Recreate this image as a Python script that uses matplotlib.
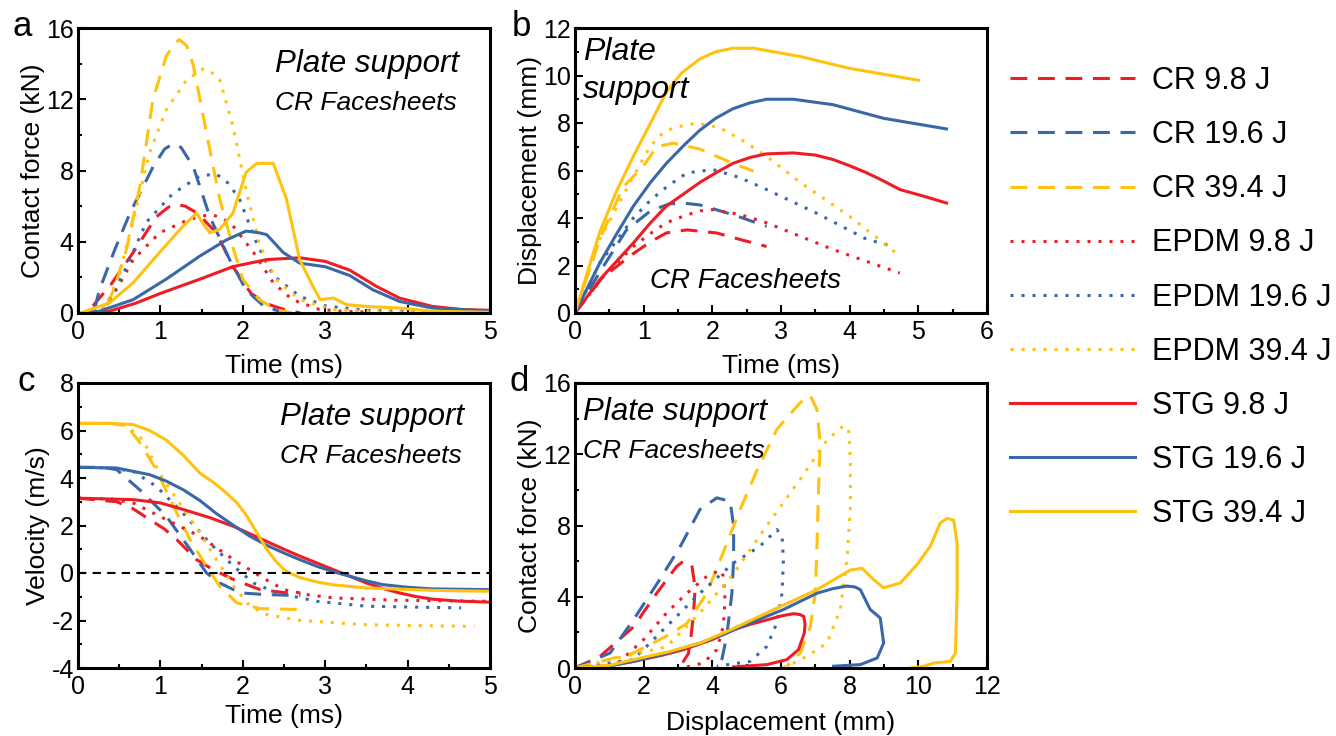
import matplotlib
matplotlib.use('Agg')
import matplotlib.pyplot as plt
from matplotlib.ticker import MultipleLocator

plt.rcParams['font.family'] = ['Liberation Sans', 'DejaVu Sans']
plt.rcParams['axes.unicode_minus'] = False

RED = '#EE1C25'
BLUE = '#3A67A8'
YEL = '#FFC20E'

labels = ['CR 9.8 J', 'CR 19.6 J', 'CR 39.4 J',
          'EPDM 9.8 J', 'EPDM 19.6 J', 'EPDM 39.4 J',
          'STG 9.8 J', 'STG 19.6 J', 'STG 39.4 J']

# ---- panel a: contact force (kN) vs time (ms)
a_cr98 = ([0.18, 0.4, 0.67, 0.95, 1.1, 1.19, 1.3, 1.45, 1.68, 1.88, 2.1, 2.3, 2.5, 2.7],
          [0.4, 1.6, 3.4, 5.4, 5.95, 6.1, 6.0, 5.6, 4.5, 2.6, 1.1, 0.5, 0.2, 0.0])
a_cr196 = ([0.2, 0.26, 0.45, 0.63, 0.91, 1.05, 1.15, 1.25, 1.4, 1.6, 1.84, 2.04, 2.25, 2.5],
           [0.2, 1.3, 3.6, 5.6, 8.2, 9.2, 9.5, 9.3, 8.2, 5.4, 3.0, 1.3, 0.4, 0.0])
a_cr394 = ([0.35, 0.45, 0.59, 0.75, 0.91, 1.07, 1.15, 1.23, 1.32, 1.4, 1.56, 1.72, 1.88, 2.0,
            2.2, 2.4, 2.6],
           [0.4, 1.5, 3.6, 7.1, 12.0, 14.4, 15.0, 15.35, 15.0, 13.9, 10.1, 6.4, 3.7, 1.9,
            0.75, 0.2, 0.0])
a_ep98 = ([0.3, 0.45, 0.67, 0.99, 1.32, 1.5, 1.64, 1.76, 1.88, 2.13, 2.37, 2.6, 2.93, 3.2, 3.5],
          [0.2, 1.2, 3.0, 4.5, 5.2, 5.45, 5.5, 5.3, 4.9, 3.4, 1.7, 0.75, 0.2, 0.1, 0.05])
a_ep196 = ([0.3, 0.45, 0.59, 0.83, 1.15, 1.48, 1.68, 1.82, 1.96, 2.17, 2.37, 2.69, 3.0, 3.5, 4.3],
           [0.2, 1.3, 2.6, 5.1, 6.7, 7.7, 7.8, 7.3, 6.4, 3.9, 2.1, 0.94, 0.4, 0.15, 0.05])
a_ep394 = ([0.3, 0.4, 0.5, 0.67, 0.87, 1.07, 1.32, 1.52, 1.6, 1.72, 1.88, 2.04, 2.2, 2.4, 2.69,
            3.1, 3.6, 4.5],
           [0.2, 1.0, 2.2, 5.2, 9.0, 11.4, 13.1, 13.7, 13.6, 13.1, 10.5, 6.9, 3.9, 1.9, 0.75,
            0.2, 0.08, 0.0])
a_stg98 = ([0.0, 0.38, 0.7, 1.0, 1.48, 1.88, 2.29, 2.69, 3.0, 3.3, 3.62, 3.9, 4.3, 4.65, 5.0],
           [0.0, 0.1, 0.55, 1.1, 1.9, 2.6, 3.0, 3.1, 2.9, 2.4, 1.5, 0.84, 0.37, 0.2, 0.15])
a_stg196 = ([0.0, 0.26, 0.67, 1.07, 1.48, 1.8, 2.04, 2.2, 2.29, 2.49, 2.69, 3.0, 3.3, 3.58, 3.9,
             4.3, 5.0],
            [0.0, 0.1, 0.75, 1.9, 3.2, 4.1, 4.6, 4.5, 4.4, 3.4, 2.8, 2.6, 2.1, 1.3, 0.65,
             0.28, 0.1])
a_stg394 = ([0.0, 0.06, 0.38, 0.67, 0.99, 1.28, 1.44, 1.52, 1.6, 1.72, 1.88, 2.04, 2.17, 2.37,
             2.53, 2.69, 2.85, 2.94, 3.1, 3.26, 3.5, 3.9, 4.3, 5.0],
            [0.0, 0.05, 0.56, 1.7, 3.4, 4.9, 5.6, 5.0, 4.5, 4.7, 5.6, 7.9, 8.4, 8.4,
             6.4, 3.0, 1.5, 0.75, 0.84, 0.47, 0.37, 0.28, 0.1, 0.04])

# ---- panel b: displacement (mm) vs time (ms)
b_cr98 = ([0.0, 0.4, 0.85, 1.1, 1.33, 1.63, 2.06, 2.4, 2.79],
          [0.0, 1.5, 2.5, 3.0, 3.37, 3.5, 3.37, 3.1, 2.8])
b_cr196 = ([0.0, 0.4, 0.75, 1.1, 1.38, 1.6, 1.82, 2.3, 2.79],
           [0.0, 1.9, 3.5, 4.3, 4.6, 4.62, 4.55, 4.14, 3.65])
b_cr394 = ([0.0, 0.36, 0.7, 1.0, 1.19, 1.43, 1.82, 2.3, 2.6],
           [0.0, 3.1, 5.3, 6.2, 7.0, 7.15, 6.9, 6.3, 5.97])
b_ep98 = ([0.0, 0.4, 0.85, 1.1, 1.33, 1.6, 1.82, 2.0, 2.4, 2.79, 3.76, 4.73],
          [0.0, 1.5, 2.8, 3.35, 3.8, 4.1, 4.3, 4.35, 4.15, 3.8, 2.67, 1.68])
b_ep196 = ([0.0, 0.36, 0.85, 1.1, 1.33, 1.63, 2.01, 2.4, 2.79, 3.52, 4.25, 4.64],
           [0.0, 2.1, 4.0, 4.75, 5.3, 5.9, 6.04, 5.7, 5.2, 4.2, 3.1, 2.8])
b_ep394 = ([0.0, 0.36, 0.85, 1.09, 1.25, 1.43, 1.77, 2.11, 2.45, 2.79, 3.28, 4.0, 4.73],
           [0.0, 3.1, 5.75, 7.0, 7.5, 7.8, 8.0, 7.8, 7.25, 6.6, 5.5, 4.07, 2.4])
b_stg98 = ([0.0, 0.36, 0.85, 1.1, 1.33, 1.6, 1.82, 2.05, 2.3, 2.55, 2.79, 3.18, 3.5, 3.76, 4.0,
            4.25, 4.5, 4.73, 5.1, 5.41],
           [0.0, 1.4, 2.95, 3.8, 4.5, 5.05, 5.5, 5.9, 6.3, 6.55, 6.7, 6.74, 6.65, 6.46, 6.2,
            5.9, 5.55, 5.2, 4.9, 4.63])
b_stg196 = ([0.0, 0.36, 0.6, 0.85, 1.1, 1.33, 1.6, 1.82, 2.05, 2.3, 2.55, 2.79, 3.18, 3.76, 4.49,
             5.41],
            [0.0, 2.1, 3.3, 4.5, 5.5, 6.3, 7.1, 7.7, 8.2, 8.6, 8.85, 9.0, 9.0, 8.77, 8.2,
             7.75])
b_stg394 = ([0.0, 0.2, 0.36, 0.6, 0.85, 1.1, 1.33, 1.55, 1.82, 2.05, 2.3, 2.6, 3.28, 4.0, 5.0],
            [0.0, 1.9, 3.4, 5.1, 6.6, 8.0, 9.3, 10.1, 10.7, 11.0, 11.15, 11.15, 10.8, 10.3, 9.8])

# ---- panel c: velocity (m/s) vs time (ms)
c_cr98 = ([0.0, 0.47, 0.67, 0.87, 1.05, 1.2, 1.44, 1.64, 1.89, 2.21, 2.54, 2.7],
          [3.15, 3.0, 2.7, 2.25, 1.85, 1.4, 0.56, 0.14, -0.28, -0.7, -0.84, -0.84])
c_cr196 = ([0.0, 0.3, 0.47, 0.75, 1.07, 1.36, 1.56, 1.72, 1.97, 2.29, 2.7],
           [4.45, 4.45, 4.35, 3.5, 2.4, 1.0, 0.0, -0.42, -0.84, -0.91, -0.95])
c_cr394 = ([0.0, 0.4, 0.59, 0.75, 0.95, 1.16, 1.36, 1.56, 1.72, 1.93, 2.21, 2.7],
           [6.3, 6.3, 6.2, 5.5, 4.35, 2.8, 1.4, 0.28, -0.56, -1.26, -1.5, -1.54])
c_ep98 = ([0.0, 0.4, 0.67, 1.07, 1.48, 1.89, 2.21, 2.5, 2.8, 3.1, 3.9, 4.97],
          [3.15, 3.12, 2.95, 2.25, 1.54, 0.56, -0.14, -0.7, -0.92, -1.05, -1.15, -1.19])
c_ep196 = ([0.0, 0.4, 0.67, 0.95, 1.28, 1.6, 1.89, 2.13, 2.41, 2.9, 3.5, 4.65],
           [4.45, 4.42, 4.28, 3.65, 2.5, 1.26, 0.28, -0.42, -0.84, -1.19, -1.4, -1.47])
c_ep394 = ([0.0, 0.4, 0.59, 0.79, 0.99, 1.2, 1.48, 1.68, 1.89, 2.09, 2.29, 2.7, 3.5, 4.81],
           [6.3, 6.3, 6.2, 5.6, 4.2, 3.1, 1.68, 0.56, -0.56, -1.4, -1.75, -2.0, -2.18, -2.25])
c_stg98 = ([0.0, 0.67, 1.0, 1.28, 1.6, 1.89, 2.1, 2.29, 2.5, 2.7, 2.9, 3.1, 3.3, 3.5, 3.7,
            3.9, 4.1, 4.3, 4.6, 5.0],
           [3.15, 3.09, 2.95, 2.67, 2.33, 1.96, 1.63, 1.33, 1.0, 0.7, 0.42, 0.14, -0.14, -0.42,
            -0.65, -0.84, -0.99, -1.1, -1.18, -1.23])
c_stg196 = ([0.0, 0.47, 0.87, 1.07, 1.28, 1.48, 1.68, 1.89, 2.09, 2.3, 2.5, 2.7, 2.9, 3.1, 3.3,
             3.5, 3.7, 4.0, 4.3, 5.0],
            [4.45, 4.42, 4.14, 3.87, 3.5, 3.05, 2.5, 2.0, 1.54, 1.15, 0.84, 0.55, 0.28, 0.05,
             -0.14, -0.33, -0.49, -0.6, -0.67, -0.7])
c_stg394 = ([0.0, 0.4, 0.67, 0.87, 1.07, 1.28, 1.48, 1.65, 1.8, 1.93, 2.05, 2.17, 2.29, 2.4,
             2.5, 2.6, 2.7, 2.9, 3.1, 3.5, 4.3, 5.0],
            [6.3, 6.3, 6.25, 6.0, 5.6, 4.95, 4.2, 3.8, 3.37, 2.95, 2.4, 1.7, 1.0, 0.5,
             0.14, -0.05, -0.2, -0.38, -0.5, -0.63, -0.73, -0.77])

# ---- panel d: contact force (kN) vs displacement (mm)
d_cr98 = ([0.0, 0.73, 1.7, 2.38, 2.96, 3.16, 3.4, 3.5, 3.45, 3.38, 3.3, 3.1, 2.9],
          [0.0, 0.65, 2.3, 4.2, 5.7, 6.0, 5.8, 4.5, 3.0, 1.8, 0.8, 0.2, 0.0])
d_cr196 = ([0.0, 1.02, 1.7, 2.48, 3.06, 3.64, 4.13, 4.52, 4.62, 4.62, 4.57, 4.42, 4.28, 4.2],
           [0.0, 0.84, 2.7, 5.0, 6.8, 8.9, 9.55, 9.36, 7.96, 6.1, 4.2, 1.8, 0.5, 0.0])
d_cr394 = ([0.0, 1.7, 2.67, 3.26, 3.84, 4.32, 4.81, 5.3, 5.88, 6.56, 6.85, 7.05, 7.14, 7.09,
            7.05, 7.0, 6.85, 6.56, 6.17],
           [0.0, 0.84, 1.8, 2.5, 4.2, 6.5, 8.9, 11.1, 13.4, 14.9, 15.3, 14.5, 12.6, 9.8,
            7.0, 4.2, 2.3, 0.84, 0.1])
d_ep98 = ([0.0, 1.21, 2.0, 2.67, 3.26, 3.84, 4.23, 4.32, 4.37, 4.32, 4.13, 3.74, 3.26],
          [0.0, 0.2, 1.6, 3.1, 4.2, 5.15, 5.5, 5.15, 3.84, 2.34, 1.03, 0.28, 0.06])
d_ep196 = ([0.0, 1.7, 2.67, 3.64, 4.62, 5.39, 5.88, 6.03, 6.07, 6.03, 5.88, 5.59, 5.1, 4.13],
           [0.0, 0.47, 2.34, 4.2, 5.9, 6.84, 7.77, 7.4, 6.1, 4.2, 2.53, 1.22, 0.37, 0.1])
d_ep394 = ([0.0, 2.67, 3.64, 4.62, 5.59, 6.56, 7.34, 7.82, 7.97, 8.02, 8.02, 7.92, 7.73, 7.34,
            6.75, 6.37, 6.07],
           [0.0, 1.2, 3.1, 5.3, 8.0, 10.6, 12.8, 13.6, 13.4, 11.7, 8.9, 6.1, 3.3, 1.4,
            0.66, 0.28, 0.05])
d_stg98 = ([0.0, 1.0, 1.7, 2.5, 3.16, 4.0, 4.62, 5.1, 5.59, 6.0, 6.37, 6.55, 6.66, 6.7, 6.68,
            6.51, 6.17, 5.59, 4.62],
           [0.0, 0.12, 0.37, 0.7, 1.03, 1.6, 2.15, 2.45, 2.7, 2.92, 3.05, 3.0, 2.9, 2.5, 1.97,
            1.03, 0.47, 0.19, 0.06])
d_stg196 = ([0.0, 1.0, 1.7, 2.7, 3.64, 4.4, 5.1, 6.07, 7.05, 7.5, 7.92, 8.15, 8.31, 8.6, 8.89,
             8.99, 8.8, 8.31, 7.53],
            [0.0, 0.12, 0.37, 0.85, 1.4, 1.95, 2.53, 3.28, 4.2, 4.45, 4.6, 4.55, 4.4, 3.28,
             2.81, 1.4, 0.56, 0.19, 0.1])
d_stg394 = ([0.0, 1.0, 1.7, 2.7, 3.64, 4.6, 5.59, 7.05, 8.02, 8.36, 8.7, 8.99, 9.48, 9.96,
             10.35, 10.64, 10.84, 11.03, 11.13, 11.13, 11.08, 10.93, 10.45, 10.16, 9.77],
            [0.0, 0.15, 0.47, 0.9, 1.4, 2.2, 3.1, 4.4, 5.5, 5.6, 4.96, 4.5, 4.78, 5.8,
             6.84, 8.15, 8.4, 8.3, 7.0, 4.2, 0.84, 0.37, 0.28, 0.1, 0.0])

DASH = (0, (5.5, 3.5))
DOT = (0, (1.0, 2.6))
styles = [(RED, DASH), (BLUE, DASH), (YEL, DASH),
          (RED, DOT), (BLUE, DOT), (YEL, DOT),
          (RED, '-'), (BLUE, '-'), (YEL, '-')]

W, H = 1336, 736
fig = plt.figure(figsize=(W / 100, H / 100), dpi=100)


def box(l, t, r, b):
    return [l / W, 1 - b / H, (r - l) / W, (b - t) / H]


ax_a = fig.add_axes(box(78, 28, 490, 313))
ax_b = fig.add_axes(box(575, 28, 987, 313))
ax_c = fig.add_axes(box(78, 383, 490, 668))
ax_d = fig.add_axes(box(575, 383, 987, 668))

panels = [
    (ax_a, [a_cr98, a_cr196, a_cr394, a_ep98, a_ep196, a_ep394, a_stg98, a_stg196, a_stg394]),
    (ax_b, [b_cr98, b_cr196, b_cr394, b_ep98, b_ep196, b_ep394, b_stg98, b_stg196, b_stg394]),
    (ax_c, [c_cr98, c_cr196, c_cr394, c_ep98, c_ep196, c_ep394, c_stg98, c_stg196, c_stg394]),
    (ax_d, [d_cr98, d_cr196, d_cr394, d_ep98, d_ep196, d_ep394, d_stg98, d_stg196, d_stg394]),
]

handles = []
for ax, curves in panels:
    for (x, y), (col, ls), lab in zip(curves, styles, labels):
        ln, = ax.plot(x, y, color=col, linestyle=ls, lw=2.2, label=lab)
        if ax is ax_a:
            handles.append(ln)

ax_c.axhline(0, color='black', lw=1.5, linestyle=(0, (4, 3)))


def style(ax, xlim, ylim, xmaj, xmin, ymaj, ymin, xlabel, ylabel, xpad):
    ax.set_xlim(*xlim)
    ax.set_ylim(*ylim)
    ax.xaxis.set_major_locator(MultipleLocator(xmaj))
    ax.xaxis.set_minor_locator(MultipleLocator(xmin))
    ax.yaxis.set_major_locator(MultipleLocator(ymaj))
    ax.yaxis.set_minor_locator(MultipleLocator(ymin))
    ax.tick_params(which='both', direction='in', labelsize=18, width=1.5)
    ax.tick_params(axis='x', pad=5)
    ax.tick_params(axis='y', pad=3)
    ax.tick_params(which='major', length=6)
    ax.tick_params(which='minor', length=3)
    for s in ax.spines.values():
        s.set_linewidth(2.2)
    ax.set_xlabel(xlabel, fontsize=19, labelpad=xpad)
    ax.set_ylabel(ylabel, fontsize=19, labelpad=1)


style(ax_a, (0, 5), (0, 16), 1, 0.5, 4, 2, 'Time (ms)', 'Contact force (kN)', 7)
style(ax_b, (0, 6), (0, 12), 1, 0.5, 2, 1, 'Time (ms)', 'Displacement (mm)', 7)
style(ax_c, (0, 5), (-4, 8), 1, 0.5, 2, 1, 'Time (ms)', 'Velocity (m/s)', 4)
style(ax_d, (0, 12), (0, 16), 2, 1, 4, 2, 'Displacement (mm)', 'Contact force (kN)', 9)

# in-panel notes
it = dict(style='italic', ha='left', va='baseline')
ax_a.text(0.478, 0.846, 'Plate support', transform=ax_a.transAxes, fontsize=22.5, **it)
ax_a.text(0.478, 0.712, 'CR Facesheets', transform=ax_a.transAxes, fontsize=19, **it)
ax_b.text(0.019, 0.886, 'Plate', transform=ax_b.transAxes, fontsize=23, **it)
ax_b.text(0.019, 0.756, 'support', transform=ax_b.transAxes, fontsize=23, **it)
ax_b.text(0.182, 0.088, 'CR Facesheets', transform=ax_b.transAxes, fontsize=20, **it)
ax_c.text(0.49, 0.853, 'Plate support', transform=ax_c.transAxes, fontsize=22.5, **it)
ax_c.text(0.49, 0.719, 'CR Facesheets', transform=ax_c.transAxes, fontsize=19, **it)
ax_d.text(0.019, 0.870, 'Plate support', transform=ax_d.transAxes, fontsize=22.5, **it)
ax_d.text(0.019, 0.737, 'CR Facesheets', transform=ax_d.transAxes, fontsize=19, **it)

for ax, letter, lx in zip([ax_a, ax_b, ax_c, ax_d], 'abcd', [-0.158, -0.153, -0.148, -0.158]):
    ax.text(lx, 0.973, letter, transform=ax.transAxes, fontsize=25, ha='left', va='baseline')

fig.legend(handles, labels, loc='upper left', bbox_to_anchor=(1010 / W, 1 - 66 / H),
           frameon=False, fontsize=22, handlelength=4.1, handletextpad=0.55,
           labelspacing=0.79, borderpad=0, borderaxespad=0)

fig.savefig('out.png', dpi=100)
